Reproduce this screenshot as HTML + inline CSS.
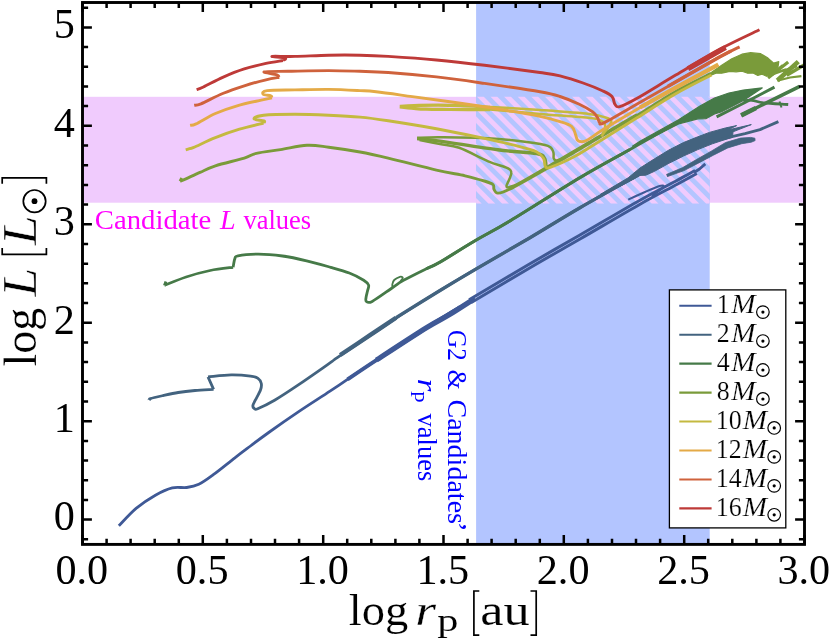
<!DOCTYPE html>
<html><head><meta charset="utf-8"><title>plot</title>
<style>html,body{margin:0;padding:0;background:#fff;overflow:hidden}svg{display:block}text{font-family:"Liberation Serif",serif}svg{will-change:transform}</style></head>
<body>
<svg width="830" height="640" viewBox="0 0 830 640">
<defs>
<clipPath id="plot"><rect x="82.5" y="2.5" width="722.0" height="541.9"/></clipPath>
</defs>
<rect width="830" height="640" fill="#fff"/>
<rect x="82.5" y="96.8" width="722.0" height="105.9" fill="#f0cbfd"/>
<rect x="476.1" y="2.5" width="233.6" height="541.9" fill="#b3c5ff"/>
<clipPath id="hc"><rect x="476.1" y="96.6" width="233.6" height="107.1"/></clipPath>
<rect x="476.1" y="96.6" width="233.6" height="107.1" fill="#b3c5ff"/>
<path clip-path="url(#hc)" d="M313.5 96.6L320.3 96.6L427.4 203.7L420.6 203.7ZM327.1 96.6L333.9 96.6L441.0 203.7L434.2 203.7ZM340.7 96.6L347.5 96.6L454.6 203.7L447.8 203.7ZM354.3 96.6L361.1 96.6L468.2 203.7L461.4 203.7ZM367.9 96.6L374.7 96.6L481.8 203.7L475.0 203.7ZM381.5 96.6L388.3 96.6L495.4 203.7L488.6 203.7ZM395.1 96.6L401.9 96.6L509.0 203.7L502.2 203.7ZM408.7 96.6L415.5 96.6L522.6 203.7L515.8 203.7ZM422.3 96.6L429.1 96.6L536.2 203.7L529.4 203.7ZM435.9 96.6L442.7 96.6L549.8 203.7L543.0 203.7ZM449.5 96.6L456.3 96.6L563.4 203.7L556.6 203.7ZM463.1 96.6L469.9 96.6L577.0 203.7L570.2 203.7ZM476.7 96.6L483.5 96.6L590.6 203.7L583.8 203.7ZM490.3 96.6L497.1 96.6L604.2 203.7L597.4 203.7ZM503.9 96.6L510.7 96.6L617.8 203.7L611.0 203.7ZM517.5 96.6L524.3 96.6L631.4 203.7L624.6 203.7ZM531.1 96.6L537.9 96.6L645.0 203.7L638.2 203.7ZM544.7 96.6L551.5 96.6L658.6 203.7L651.8 203.7ZM558.3 96.6L565.1 96.6L672.2 203.7L665.4 203.7ZM571.9 96.6L578.7 96.6L685.8 203.7L679.0 203.7ZM585.5 96.6L592.3 96.6L699.4 203.7L692.6 203.7ZM599.1 96.6L605.9 96.6L713.0 203.7L706.2 203.7ZM612.7 96.6L619.5 96.6L726.6 203.7L719.8 203.7ZM626.3 96.6L633.1 96.6L740.2 203.7L733.4 203.7ZM639.9 96.6L646.7 96.6L753.8 203.7L747.0 203.7ZM653.5 96.6L660.3 96.6L767.4 203.7L760.6 203.7ZM667.1 96.6L673.9 96.6L781.0 203.7L774.2 203.7ZM680.7 96.6L687.5 96.6L794.6 203.7L787.8 203.7ZM694.3 96.6L701.1 96.6L808.2 203.7L801.4 203.7ZM707.9 96.6L714.7 96.6L821.8 203.7L815.0 203.7Z" fill="#f0cbfd"/>
<g clip-path="url(#plot)" stroke-linejoin="round">
<path d="M118.8 525.8C121.7 522.9 130.0 513.5 136.1 508.4C142.2 503.3 149.4 498.6 155.4 495.2C161.4 491.8 167.1 489.2 172.3 487.9C177.5 486.6 182.3 488.1 186.7 487.5C191.1 486.9 194.4 486.4 198.8 484.3C203.2 482.2 207.3 479.1 213.3 474.7C219.3 470.3 228.7 462.6 234.9 457.8C241.1 453.0 244.9 450.2 250.5 446.0C256.1 441.8 260.7 438.2 268.7 432.5C276.7 426.8 288.5 418.6 298.7 411.7C308.9 404.8 321.9 396.6 330.0 391.2C338.1 385.8 339.8 384.6 347.5 379.4C355.2 374.2 363.2 368.7 376.4 360.1C389.5 351.5 410.0 338.1 426.4 327.8C442.8 317.5 466.6 303.1 474.6 298.1" fill="none" stroke="#3f5996" stroke-width="2.8" stroke-linecap="butt"/>
<path d="M694.0 172.5L699.5 169.0L705.3 163.9" fill="none" stroke="#3f5996" stroke-width="2.8" stroke-linecap="butt"/>
<path d="M347.5 379.4C352.3 376.2 363.2 368.7 376.4 360.1C389.5 351.5 412.5 336.7 426.4 327.8C440.3 318.9 454.4 310.5 460.0 307.0" fill="none" stroke="#3f5996" stroke-width="3.8" stroke-linecap="butt"/>
<path d="M376.4 360.1C384.7 354.7 414.1 335.4 426.4 327.8C438.7 320.2 442.0 319.2 450.0 314.3C458.0 309.4 470.5 301.2 474.6 298.6" fill="none" stroke="#3f5996" stroke-width="5.2" stroke-linecap="butt"/>
<path d="M470.9 302.8C480.9 296.9 512.6 277.9 530.9 267.2C549.2 256.5 562.5 249.1 580.9 238.5C599.2 227.9 624.8 212.8 640.9 203.7C656.9 194.7 667.9 189.3 677.2 184.2C686.6 179.2 693.6 175.3 696.8 173.5" fill="none" stroke="#3f5996" stroke-width="3.0" stroke-linecap="butt"/>
<path d="M469.1 299.8C479.1 293.9 510.8 274.9 529.1 264.2C547.5 253.5 560.8 246.1 579.1 235.5C597.5 224.9 623.1 209.7 639.1 200.7C655.2 191.6 666.2 186.2 675.6 181.2C684.9 176.1 691.9 172.2 695.2 170.5" fill="none" stroke="#3f5996" stroke-width="3.0" stroke-linecap="butt"/>
<path d="M628.2 199.6C631.0 198.3 640.0 194.2 645.0 192.0C650.0 189.8 654.9 187.6 658.0 186.5C661.1 185.4 662.8 185.3 663.5 185.6C664.2 185.9 663.9 186.8 662.0 188.5C660.1 190.2 653.7 194.8 652.0 196.0" fill="none" stroke="#3f5996" stroke-width="2.0" stroke-linecap="butt"/>
<path d="M149.3 400.2C149.5 399.9 148.2 399.4 150.5 398.6C152.8 397.8 158.4 396.6 163.0 395.6C167.6 394.6 172.9 393.4 178.2 392.5C183.5 391.6 189.1 391.0 195.0 390.5C200.9 390.0 210.5 389.6 213.6 389.4M213.6 389.4L208.0 376.9M208.0 376.9C211.9 376.6 224.1 375.0 231.2 374.9C238.3 374.8 246.0 375.5 250.5 376.1C255.0 376.7 256.2 377.1 258.0 378.3C259.8 379.5 260.9 381.6 261.3 383.5C261.7 385.4 261.5 387.2 260.5 390.0C259.5 392.8 256.6 397.6 255.3 400.2C254.0 402.8 253.1 404.1 252.9 405.5C252.7 406.9 253.2 407.8 254.0 408.3C254.8 408.8 254.3 410.1 257.7 408.7C261.1 407.3 267.8 404.2 274.6 400.2C281.4 396.2 289.5 390.8 298.7 384.6C307.9 378.4 323.1 367.7 330.0 362.9C336.9 358.1 328.5 363.5 340.2 355.6C351.9 347.7 383.4 326.6 400.0 315.7C416.6 304.8 427.6 298.1 440.0 290.5C452.4 282.9 459.6 278.6 474.6 269.8C489.6 261.0 512.4 248.0 530.0 237.7C547.6 227.3 561.7 218.3 580.0 207.7C598.3 197.1 623.3 183.2 640.0 174.0C656.7 164.8 668.0 158.6 680.0 152.2C692.0 145.8 706.7 138.4 712.0 135.7" fill="none" stroke="#43637f" stroke-width="2.8" stroke-linecap="butt"/>
<path d="M340.2 355.0C345.2 351.7 360.7 341.4 370.0 335.2C379.3 329.0 391.7 320.6 396.0 317.7" fill="none" stroke="#43637f" stroke-width="4.4" stroke-linecap="butt"/>
<path d="M396.0 317.7C403.3 313.2 426.9 298.5 440.0 290.5C453.1 282.5 459.6 278.6 474.6 269.8C489.6 261.0 512.4 248.0 530.0 237.7C547.6 227.3 561.7 218.3 580.0 207.7C598.3 197.1 630.0 179.6 640.0 174.0" fill="none" stroke="#43637f" stroke-width="3.3" stroke-linecap="butt"/>
<path d="M600.0 194.6L628.2 177.8L640.0 168.0L654.5 158.8L668.9 150.0L683.4 142.6L697.8 136.8L709.4 132.4L725.3 128.0L736.6 125.6L728.0 130.0L751.3 124.6L733.0 131.8L732.5 137.3L721.0 140.9L712.3 143.8L697.8 149.6L683.4 156.1L668.9 163.3L654.5 171.3L645.8 175.2L640.0 175.4L628.2 182.0L600.0 196.4" fill="#43637f" stroke="#43637f" stroke-width="1.0"/>
<path d="M667.1 176.7L684.1 170.6L698.8 162.9L713.4 155.2L727.8 147.9L741.8 143.7L751.3 142.2L755.1 140.6L754.9 138.2L750.7 137.4L740.6 138.1L725.6 142.5L711.2 151.2L696.8 159.3L682.7 167.6L666.3 174.5" fill="#43637f" stroke="#43637f" stroke-width="0.8"/>
<path d="M722.0 138.8L745.0 133.6L760.0 129.6L778.4 121.6" fill="none" stroke="#43637f" stroke-width="2.9" stroke-linecap="butt"/>
<path d="M165.9 281.6L164.4 285.4M164.4 285.4C168.0 284.0 178.5 279.5 186.1 277.0C193.7 274.5 202.4 272.1 210.2 270.5C218.0 268.9 229.3 267.8 233.1 267.3M233.1 267.3C233.4 265.9 234.0 260.8 234.8 258.9C235.6 257.0 234.1 256.6 238.0 255.8C241.9 255.0 251.0 254.1 258.4 254.1C265.8 254.1 274.5 254.9 282.5 256.0C290.5 257.1 298.6 258.9 306.6 260.8C314.6 262.7 323.6 265.3 330.7 267.3C337.8 269.3 343.8 270.9 349.3 273.0C354.8 275.1 360.5 278.2 363.7 280.2C366.9 282.2 368.0 283.3 368.6 285.1C369.2 286.9 367.9 289.0 367.5 291.0C367.1 293.0 366.3 295.4 366.1 297.1C365.9 298.8 365.3 300.6 366.3 301.3C367.3 302.0 367.8 303.7 372.2 301.4C376.6 299.1 387.5 291.0 392.7 287.5C397.9 284.0 397.9 283.4 403.5 280.3C409.1 277.2 420.3 271.7 426.4 268.7C432.5 265.7 432.0 266.7 440.0 262.1C448.0 257.5 462.8 247.9 474.6 241.0C486.4 234.1 493.1 231.1 510.7 220.5C528.3 209.9 560.1 189.4 580.0 177.6C599.9 165.8 613.9 158.5 630.0 149.5C646.1 140.5 663.1 130.8 676.4 123.4C689.7 116.0 704.4 108.3 710.0 105.3" fill="none" stroke="#467a48" stroke-width="2.8" stroke-linecap="butt"/>
<path d="M426.4 268.7C428.7 267.6 432.0 266.7 440.0 262.1C448.0 257.5 462.8 247.9 474.6 241.0C486.4 234.1 493.1 231.1 510.7 220.5C528.3 209.9 560.1 189.4 580.0 177.6C599.9 165.8 621.7 154.2 630.0 149.5" fill="none" stroke="#467a48" stroke-width="3.0" stroke-linecap="butt"/>
<path d="M392.7 287.5C392.6 287.0 392.1 285.8 392.3 284.5C392.6 283.2 392.9 281.3 394.2 280.0C395.5 278.7 398.5 277.2 399.9 276.8C401.3 276.4 402.7 277.1 402.8 277.8C402.9 278.5 400.9 280.5 400.5 281.0" fill="none" stroke="#467a48" stroke-width="1.8" stroke-linecap="butt"/>
<path d="M632.0 146.5L640.0 141.2L678.6 119.7L700.0 106.0L714.5 98.0L728.9 93.0L743.4 90.1L762.2 87.9L743.4 100.5L733.3 105.8L721.0 112.0L714.5 114.0L705.8 118.6L697.8 118.8L678.6 124.0L640.0 143.4" fill="#467a48" stroke="#467a48" stroke-width="1.2"/>
<path d="M716.6 116.8L745.0 102.5L774.5 87.2" fill="none" stroke="#467a48" stroke-width="3.0" stroke-linecap="butt"/>
<path d="M741.2 115.4L760.0 106.0L799.8 86.3" fill="none" stroke="#467a48" stroke-width="3.6" stroke-linecap="butt"/>
<path d="M741.2 115.4L756.0 108.0" fill="none" stroke="#467a48" stroke-width="4.6" stroke-linecap="butt"/>
<path d="M743.4 100.7C744.8 100.6 748.6 99.9 752.0 100.3C755.4 100.7 757.6 102.2 763.6 102.9C769.6 103.6 784.1 104.2 788.2 104.5" fill="none" stroke="#467a48" stroke-width="2.8" stroke-linecap="butt"/>
<path d="M779.5 101.5L781.5 107.5" fill="none" stroke="#467a48" stroke-width="2.0" stroke-linecap="butt"/>
<path d="M181.8 178.0L180.0 181.2M180.0 181.2C181.1 180.8 183.2 180.1 186.5 178.6C189.8 177.1 195.2 174.5 200.0 172.4C204.8 170.3 208.0 168.2 215.4 165.8C222.8 163.4 237.5 160.2 244.3 158.1C251.1 156.0 250.4 154.7 256.4 153.3C262.4 151.9 272.1 150.9 280.5 149.6C288.9 148.3 299.0 145.7 307.0 145.3C315.0 144.9 319.9 146.1 328.7 147.2C337.5 148.3 350.1 150.2 360.0 152.0C369.9 153.8 375.5 155.1 388.2 158.1C400.9 161.1 423.6 167.1 436.4 170.1C449.2 173.1 457.1 174.0 465.1 175.8C473.1 177.6 479.7 179.6 484.3 181.0C488.9 182.4 491.4 183.1 493.0 184.5C494.6 185.9 493.2 187.9 494.0 189.3C494.8 190.7 495.2 193.1 497.8 193.1C500.4 193.1 501.4 193.3 509.4 189.3C517.4 185.3 530.9 177.6 546.0 168.9C561.1 160.2 584.8 146.0 600.0 137.1C615.2 128.2 624.4 123.2 637.0 115.6C649.6 108.0 663.5 98.5 675.7 91.5C688.0 84.5 704.7 76.8 710.5 73.8" fill="none" stroke="#7a9b3a" stroke-width="2.9" stroke-linecap="butt"/>
<path d="M417.1 137.8C420.9 137.7 428.1 137.1 440.0 137.2C451.9 137.3 473.8 137.4 488.2 138.2C502.6 139.0 516.7 140.7 526.7 142.0C536.7 143.3 543.6 144.3 548.0 145.9C552.4 147.5 552.2 149.6 553.2 151.7C554.2 153.8 553.2 156.9 553.7 158.4C554.2 159.9 555.0 160.3 556.0 160.5C557.0 160.7 559.3 159.7 560.0 159.5" fill="none" stroke="#7a9b3a" stroke-width="2.5" stroke-linecap="butt"/>
<path d="M417.1 138.6C420.9 139.0 426.6 139.2 440.0 141.1C453.4 143.0 481.7 147.7 497.8 149.8C513.9 151.9 528.6 152.2 536.4 153.6C544.2 155.0 543.0 156.1 544.6 158.4C546.2 160.7 545.8 166.0 546.0 167.5" fill="none" stroke="#7a9b3a" stroke-width="3.4" stroke-linecap="butt"/>
<path d="M419.5 140.0C422.9 140.7 433.4 142.7 440.0 144.0C446.6 145.3 451.3 144.9 459.3 147.8C467.3 150.7 480.2 157.9 488.2 161.3C496.2 164.7 503.6 166.2 507.5 168.1C511.4 170.0 511.1 170.9 511.3 172.9C511.6 174.9 509.8 177.8 509.0 180.0C508.2 182.2 506.5 184.6 506.5 185.8C506.5 187.0 506.8 187.7 509.0 187.2C511.2 186.7 513.8 185.9 520.0 182.6C526.2 179.3 532.7 175.4 546.0 167.6C559.3 159.8 584.8 144.7 600.0 135.8C615.2 126.9 630.8 118.0 637.0 114.4" fill="none" stroke="#7a9b3a" stroke-width="2.5" stroke-linecap="butt"/>
<path d="M700.0 79.0L711.6 72.3L721.7 65.3L731.8 58.8L741.9 54.2L750.6 52.7L760.7 53.7L768.0 58.1L773.7 63.1L778.8 61.7L778.0 67.0L772.3 74.5L766.5 76.3L762.0 74.2L757.8 75.4L753.0 73.0L747.7 73.2L742.0 71.2L736.1 71.8L730.0 71.4L721.7 73.2L716.0 73.2L711.6 74.9L700.0 80.6" fill="#7a9b3a" stroke="#7a9b3a" stroke-width="1.2"/>
<path d="M768.0 77.9L788.2 61.9" fill="none" stroke="#7a9b3a" stroke-width="3.2" stroke-linecap="butt"/>
<path d="M772.0 74.5L783.0 65.5" fill="none" stroke="#7a9b3a" stroke-width="3.0" stroke-linecap="butt"/>
<path d="M777.3 80.5L798.3 61.6" fill="none" stroke="#7a9b3a" stroke-width="4.6" stroke-linecap="butt"/>
<path d="M777.3 80.7L790.0 77.5L801.4 76.1" fill="none" stroke="#7a9b3a" stroke-width="2.2" stroke-linecap="butt"/>
<path d="M786.7 75.2L804.5 64.8" fill="none" stroke="#7a9b3a" stroke-width="3.4" stroke-linecap="butt"/>
<path d="M770.0 75.0L786.0 69.5" fill="none" stroke="#7a9b3a" stroke-width="2.4" stroke-linecap="butt"/>
<path d="M783.0 71.0L797.0 66.0" fill="none" stroke="#7a9b3a" stroke-width="2.4" stroke-linecap="butt"/>
<path d="M185.7 149.8C186.3 149.6 188.2 149.0 189.5 148.6C190.8 148.2 189.4 149.2 193.7 147.4C198.0 145.6 207.8 140.6 215.4 137.6C223.0 134.6 231.5 131.6 239.5 129.2C247.5 126.8 259.6 124.1 263.6 123.1M263.6 123.1C263.7 122.7 265.6 121.6 264.0 120.9C262.4 120.2 254.1 120.0 254.0 119.0C253.9 118.0 256.8 116.0 263.6 115.2C270.4 114.4 284.0 114.2 294.9 114.2C305.8 114.2 317.8 114.7 328.7 115.2C339.6 115.7 350.1 116.2 360.0 117.1C369.9 118.0 375.5 118.8 388.2 120.7C400.9 122.6 421.3 125.9 436.4 128.7C451.5 131.4 465.2 134.3 478.6 137.2C492.1 140.1 507.5 143.5 517.1 145.9C526.7 148.3 532.0 149.6 536.4 151.7C540.8 153.8 542.1 155.9 543.6 158.4C545.1 160.9 544.2 165.1 545.4 166.5C546.6 167.9 545.9 168.8 550.8 167.1C555.7 165.4 566.7 160.7 574.9 156.3C583.1 151.9 589.6 147.3 600.0 140.9C610.4 134.5 624.4 125.7 637.0 117.8C649.6 109.9 663.3 100.9 675.7 93.8C688.1 86.7 705.6 78.1 711.6 75.0" fill="none" stroke="#c4b940" stroke-width="2.9" stroke-linecap="butt"/>
<path d="M399.8 106.4C402.2 106.2 407.6 105.7 414.0 105.5C420.4 105.3 430.3 105.2 438.0 105.2C445.7 105.2 451.3 105.3 460.0 105.6C468.7 105.9 485.0 106.8 490.0 107.0" fill="none" stroke="#c4b940" stroke-width="3.2" stroke-linecap="butt"/>
<path d="M490.0 107.0C498.3 107.5 523.5 108.8 540.0 109.9C556.5 111.1 577.9 112.6 588.9 113.9C599.9 115.2 602.6 116.6 606.3 117.7C610.0 118.8 610.8 119.3 611.3 120.6C611.8 121.9 610.6 123.6 609.5 125.5C608.4 127.4 605.8 130.2 604.5 132.0C603.2 133.8 602.0 135.8 601.5 136.5" fill="none" stroke="#c4b940" stroke-width="2.5" stroke-linecap="butt"/>
<path d="M399.8 106.8C402.2 107.1 409.6 108.0 414.0 108.4C418.4 108.8 420.0 109.0 426.0 109.2C432.0 109.4 439.3 109.4 450.0 109.5C460.7 109.6 483.3 109.6 490.0 109.6" fill="none" stroke="#c4b940" stroke-width="3.2" stroke-linecap="butt"/>
<path d="M490.0 109.6C498.3 110.3 523.3 112.5 540.0 113.9C556.7 115.3 580.0 117.0 590.0 118.0C600.0 119.0 597.6 119.3 600.0 120.2C602.4 121.1 603.7 122.2 604.5 123.5C605.3 124.8 605.3 126.2 605.0 128.0C604.7 129.8 602.9 133.0 602.5 134.0" fill="none" stroke="#c4b940" stroke-width="2.5" stroke-linecap="butt"/>
<path d="M190.1 125.3C191.1 125.1 191.9 125.9 196.1 123.9C200.3 121.9 208.6 116.5 215.4 113.5C222.2 110.5 229.5 108.0 237.1 105.8C244.7 103.6 255.4 101.5 261.2 100.2C267.0 98.9 270.2 98.2 272.0 97.8M272.0 97.8C271.8 97.5 272.3 96.5 270.8 95.9C269.3 95.3 263.7 95.1 263.1 94.2C262.5 93.3 261.9 91.3 267.2 90.6C272.5 89.9 284.6 90.1 294.9 89.9C305.1 89.7 317.8 89.3 328.7 89.4C339.6 89.5 352.1 90.2 360.0 90.6C367.9 91.0 367.4 90.8 376.1 91.8C384.8 92.8 398.2 94.7 412.3 96.6C426.4 98.5 444.4 100.9 460.5 103.2C476.6 105.5 495.4 108.4 508.7 110.6C522.0 112.8 531.5 114.6 540.0 116.4C548.5 118.2 554.7 119.9 560.0 121.6C565.3 123.3 569.0 124.3 571.6 126.4C574.2 128.5 574.5 131.8 575.4 134.1C576.3 136.3 576.5 138.7 577.3 139.9C578.1 141.1 578.5 141.4 580.0 141.5C581.5 141.6 582.5 142.6 586.5 140.5C590.5 138.4 595.2 134.4 604.3 128.8C613.4 123.2 629.1 113.8 641.0 106.9C652.9 100.1 662.8 94.7 675.7 87.7C688.6 80.7 711.2 68.5 718.3 64.7" fill="none" stroke="#e4aa47" stroke-width="2.9" stroke-linecap="butt"/>
<path d="M640.0 107.5L675.7 87.7L718.3 64.7" fill="none" stroke="#e4aa47" stroke-width="4.2" stroke-linecap="butt"/>
<path d="M194.2 105.3C195.3 105.1 196.2 105.9 201.0 103.9C205.8 101.9 215.5 96.5 222.7 93.5C229.9 90.5 237.1 88.1 244.3 85.8C251.5 83.5 260.2 81.2 266.0 79.8C271.8 78.4 277.1 77.7 279.3 77.3M279.3 77.3C278.9 76.9 279.4 75.8 276.9 74.9C274.4 74.0 262.3 72.6 264.1 72.0C265.9 71.4 276.9 71.5 287.7 71.3C298.5 71.1 316.6 70.6 328.7 70.6C340.8 70.6 350.1 71.0 360.0 71.3C369.9 71.6 375.5 71.6 388.2 72.5C400.9 73.4 420.3 75.1 436.4 76.9C452.5 78.7 467.3 80.9 484.6 83.4C501.9 85.9 527.4 89.6 540.0 91.8C552.6 94.0 553.5 94.4 560.0 96.5C566.5 98.6 573.8 101.6 579.3 104.2C584.8 106.8 589.8 109.7 592.8 111.9C595.8 114.2 596.5 115.9 597.6 117.7C598.7 119.5 598.4 121.7 599.5 122.5C600.6 123.3 598.0 125.7 604.3 122.6C610.6 119.5 625.2 110.9 637.1 104.1C649.0 97.3 661.9 89.8 675.7 81.9C689.5 74.0 709.4 62.6 720.0 56.8C730.6 51.0 736.3 48.5 739.6 46.9" fill="none" stroke="#cf623c" stroke-width="2.9" stroke-linecap="butt"/>
<path d="M668.0 86.3L720.0 56.8L731.0 51.1" fill="none" stroke="#cf623c" stroke-width="3.4" stroke-linecap="butt"/>
<path d="M196.6 89.6C197.7 89.2 199.1 89.0 203.4 87.0C207.8 85.0 215.9 80.3 222.7 77.3C229.5 74.3 237.1 71.2 244.3 68.9C251.5 66.6 259.6 64.8 266.0 63.4C272.4 62.0 280.1 61.0 282.9 60.5M282.9 60.5C283.3 60.1 287.1 58.8 285.3 58.1C283.5 57.4 270.4 56.7 272.0 56.4C273.6 56.1 285.6 56.6 295.0 56.4C304.4 56.2 317.9 55.4 328.7 55.2C339.5 55.0 350.1 55.0 360.0 55.2C369.9 55.4 375.5 55.6 388.2 56.4C400.9 57.2 420.3 58.5 436.4 60.0C452.5 61.5 467.3 63.2 484.6 65.3C501.9 67.4 527.4 70.7 540.0 72.5C552.6 74.3 552.8 74.2 560.0 75.9C567.2 77.7 576.0 80.5 583.1 83.0C590.2 85.5 597.6 88.5 602.4 90.7C607.2 93.0 609.9 94.2 612.0 96.5C614.1 98.8 613.6 102.5 614.9 104.2C616.2 105.9 616.1 107.6 619.8 106.6C623.5 105.6 627.8 103.5 637.1 98.3C646.4 93.0 661.9 83.3 675.7 75.1C689.5 66.9 706.0 56.6 720.0 49.1C734.0 41.6 752.9 33.0 759.5 29.8" fill="none" stroke="#be3a38" stroke-width="2.9" stroke-linecap="butt"/>
<path d="M688.0 68.8L725.6 47.4" fill="none" stroke="#be3a38" stroke-width="5.2" stroke-linecap="butt"/>
</g>
<rect x="82.5" y="2.5" width="722.0" height="541.9" fill="none" stroke="#000" stroke-width="2.9"/>
<path d="M82.5 544.4v-9.4M82.5 2.5v9.4M106.6 544.4v-5.6M106.6 2.5v5.6M130.6 544.4v-5.6M130.6 2.5v5.6M154.7 544.4v-5.6M154.7 2.5v5.6M178.8 544.4v-5.6M178.8 2.5v5.6M202.8 544.4v-9.4M202.8 2.5v9.4M226.9 544.4v-5.6M226.9 2.5v5.6M251.0 544.4v-5.6M251.0 2.5v5.6M275.0 544.4v-5.6M275.0 2.5v5.6M299.1 544.4v-5.6M299.1 2.5v5.6M323.2 544.4v-9.4M323.2 2.5v9.4M347.2 544.4v-5.6M347.2 2.5v5.6M371.3 544.4v-5.6M371.3 2.5v5.6M395.4 544.4v-5.6M395.4 2.5v5.6M419.4 544.4v-5.6M419.4 2.5v5.6M443.5 544.4v-9.4M443.5 2.5v9.4M467.6 544.4v-5.6M467.6 2.5v5.6M491.6 544.4v-5.6M491.6 2.5v5.6M515.7 544.4v-5.6M515.7 2.5v5.6M539.8 544.4v-5.6M539.8 2.5v5.6M563.8 544.4v-9.4M563.8 2.5v9.4M587.9 544.4v-5.6M587.9 2.5v5.6M612.0 544.4v-5.6M612.0 2.5v5.6M636.0 544.4v-5.6M636.0 2.5v5.6M660.1 544.4v-5.6M660.1 2.5v5.6M684.2 544.4v-9.4M684.2 2.5v9.4M708.2 544.4v-5.6M708.2 2.5v5.6M732.3 544.4v-5.6M732.3 2.5v5.6M756.4 544.4v-5.6M756.4 2.5v5.6M780.4 544.4v-5.6M780.4 2.5v5.6M804.5 544.4v-9.4M804.5 2.5v9.4M82.5 539.3h5.6M804.5 539.3h-5.6M82.5 519.6h9.4M804.5 519.6h-9.4M82.5 500.0h5.6M804.5 500.0h-5.6M82.5 480.3h5.6M804.5 480.3h-5.6M82.5 460.6h5.6M804.5 460.6h-5.6M82.5 440.9h5.6M804.5 440.9h-5.6M82.5 421.2h9.4M804.5 421.2h-9.4M82.5 401.5h5.6M804.5 401.5h-5.6M82.5 381.8h5.6M804.5 381.8h-5.6M82.5 362.1h5.6M804.5 362.1h-5.6M82.5 342.4h5.6M804.5 342.4h-5.6M82.5 322.7h9.4M804.5 322.7h-9.4M82.5 303.0h5.6M804.5 303.0h-5.6M82.5 283.3h5.6M804.5 283.3h-5.6M82.5 263.7h5.6M804.5 263.7h-5.6M82.5 244.0h5.6M804.5 244.0h-5.6M82.5 224.3h9.4M804.5 224.3h-9.4M82.5 204.6h5.6M804.5 204.6h-5.6M82.5 184.9h5.6M804.5 184.9h-5.6M82.5 165.2h5.6M804.5 165.2h-5.6M82.5 145.5h5.6M804.5 145.5h-5.6M82.5 125.8h9.4M804.5 125.8h-9.4M82.5 106.1h5.6M804.5 106.1h-5.6M82.5 86.4h5.6M804.5 86.4h-5.6M82.5 66.7h5.6M804.5 66.7h-5.6M82.5 47.0h5.6M804.5 47.0h-5.6M82.5 27.4h9.4M804.5 27.4h-9.4M82.5 7.7h5.6M804.5 7.7h-5.6" stroke="#000" stroke-width="2.5" fill="none"/>
<g font-family="Liberation Serif, serif" font-size="42.2" fill="#000">
<text transform="translate(81.8 584) scale(1.0 1)" text-anchor="middle">0.0</text>
<text transform="translate(202.1 584) scale(1.0 1)" text-anchor="middle">0.5</text>
<text transform="translate(322.5 584) scale(1.0 1)" text-anchor="middle">1.0</text>
<text transform="translate(442.8 584) scale(1.0 1)" text-anchor="middle">1.5</text>
<text transform="translate(563.1 584) scale(1.0 1)" text-anchor="middle">2.0</text>
<text transform="translate(683.5 584) scale(1.0 1)" text-anchor="middle">2.5</text>
<text transform="translate(803.8 584) scale(1.0 1)" text-anchor="middle">3.0</text>
<text x="74.8" y="530.4" text-anchor="end">0</text>
<text x="74.8" y="432.0" text-anchor="end">1</text>
<text x="74.8" y="333.5" text-anchor="end">2</text>
<text x="74.8" y="235.1" text-anchor="end">3</text>
<text x="74.8" y="136.6" text-anchor="end">4</text>
<text x="74.8" y="38.2" text-anchor="end">5</text>
</g>
<rect x="669.4" y="289.9" width="116.4" height="238.0" fill="#fff" stroke="#000" stroke-width="1.3"/>
<path d="M679.3 305.7H711.6" stroke="#3f5996" stroke-width="2.1" fill="none"/>
<text transform="translate(716.70 313.40) scale(0.975 1.000)" font-family="Liberation Serif, serif" font-size="26.6" fill="#000" text-anchor="start" stroke="#fff" stroke-width="0.21">1</text>
<text transform="translate(731.26 313.40) scale(1.079 1.000)" font-family="Liberation Serif, serif" font-size="27.0" font-style="italic" fill="#000" text-anchor="start" stroke="#fff" stroke-width="0.23">M</text>
<circle cx="762.90" cy="312.10" r="6.30" fill="none" stroke="#000" stroke-width="1.20"/>
<circle cx="762.90" cy="312.10" r="1.60" fill="#000"/>
<path d="M679.3 334.7H711.6" stroke="#43637f" stroke-width="2.1" fill="none"/>
<text transform="translate(716.70 342.36) scale(0.975 1.000)" font-family="Liberation Serif, serif" font-size="26.6" fill="#000" text-anchor="start" stroke="#fff" stroke-width="0.21">2</text>
<text transform="translate(731.26 342.36) scale(1.079 1.000)" font-family="Liberation Serif, serif" font-size="27.0" font-style="italic" fill="#000" text-anchor="start" stroke="#fff" stroke-width="0.23">M</text>
<circle cx="762.90" cy="341.06" r="6.30" fill="none" stroke="#000" stroke-width="1.20"/>
<circle cx="762.90" cy="341.06" r="1.60" fill="#000"/>
<path d="M679.3 363.6H711.6" stroke="#467a48" stroke-width="2.1" fill="none"/>
<text transform="translate(716.70 371.32) scale(0.975 1.000)" font-family="Liberation Serif, serif" font-size="26.6" fill="#000" text-anchor="start" stroke="#fff" stroke-width="0.21">4</text>
<text transform="translate(731.26 371.32) scale(1.079 1.000)" font-family="Liberation Serif, serif" font-size="27.0" font-style="italic" fill="#000" text-anchor="start" stroke="#fff" stroke-width="0.23">M</text>
<circle cx="762.90" cy="370.02" r="6.30" fill="none" stroke="#000" stroke-width="1.20"/>
<circle cx="762.90" cy="370.02" r="1.60" fill="#000"/>
<path d="M679.3 392.6H711.6" stroke="#7a9b3a" stroke-width="2.1" fill="none"/>
<text transform="translate(716.70 400.28) scale(0.975 1.000)" font-family="Liberation Serif, serif" font-size="26.6" fill="#000" text-anchor="start" stroke="#fff" stroke-width="0.21">8</text>
<text transform="translate(731.26 400.28) scale(1.079 1.000)" font-family="Liberation Serif, serif" font-size="27.0" font-style="italic" fill="#000" text-anchor="start" stroke="#fff" stroke-width="0.23">M</text>
<circle cx="762.90" cy="398.98" r="6.30" fill="none" stroke="#000" stroke-width="1.20"/>
<circle cx="762.90" cy="398.98" r="1.60" fill="#000"/>
<path d="M679.3 421.5H711.6" stroke="#c4b940" stroke-width="2.1" fill="none"/>
<text transform="translate(715.70 429.24) scale(0.975 1.000)" font-family="Liberation Serif, serif" font-size="26.6" fill="#000" text-anchor="start" stroke="#fff" stroke-width="0.21">10</text>
<text transform="translate(742.66 429.24) scale(1.079 1.000)" font-family="Liberation Serif, serif" font-size="27.0" font-style="italic" fill="#000" text-anchor="start" stroke="#fff" stroke-width="0.23">M</text>
<circle cx="774.20" cy="427.94" r="6.30" fill="none" stroke="#000" stroke-width="1.20"/>
<circle cx="774.20" cy="427.94" r="1.60" fill="#000"/>
<path d="M679.3 450.5H711.6" stroke="#e4aa47" stroke-width="2.1" fill="none"/>
<text transform="translate(715.70 458.20) scale(0.975 1.000)" font-family="Liberation Serif, serif" font-size="26.6" fill="#000" text-anchor="start" stroke="#fff" stroke-width="0.21">12</text>
<text transform="translate(742.66 458.20) scale(1.079 1.000)" font-family="Liberation Serif, serif" font-size="27.0" font-style="italic" fill="#000" text-anchor="start" stroke="#fff" stroke-width="0.23">M</text>
<circle cx="774.20" cy="456.90" r="6.30" fill="none" stroke="#000" stroke-width="1.20"/>
<circle cx="774.20" cy="456.90" r="1.60" fill="#000"/>
<path d="M679.3 479.5H711.6" stroke="#cf623c" stroke-width="2.1" fill="none"/>
<text transform="translate(715.70 487.16) scale(0.975 1.000)" font-family="Liberation Serif, serif" font-size="26.6" fill="#000" text-anchor="start" stroke="#fff" stroke-width="0.21">14</text>
<text transform="translate(742.66 487.16) scale(1.079 1.000)" font-family="Liberation Serif, serif" font-size="27.0" font-style="italic" fill="#000" text-anchor="start" stroke="#fff" stroke-width="0.23">M</text>
<circle cx="774.20" cy="485.86" r="6.30" fill="none" stroke="#000" stroke-width="1.20"/>
<circle cx="774.20" cy="485.86" r="1.60" fill="#000"/>
<path d="M679.3 508.4H711.6" stroke="#be3a38" stroke-width="2.1" fill="none"/>
<text transform="translate(715.70 516.12) scale(0.975 1.000)" font-family="Liberation Serif, serif" font-size="26.6" fill="#000" text-anchor="start" stroke="#fff" stroke-width="0.21">16</text>
<text transform="translate(742.66 516.12) scale(1.079 1.000)" font-family="Liberation Serif, serif" font-size="27.0" font-style="italic" fill="#000" text-anchor="start" stroke="#fff" stroke-width="0.23">M</text>
<circle cx="774.20" cy="514.82" r="6.30" fill="none" stroke="#000" stroke-width="1.20"/>
<circle cx="774.20" cy="514.82" r="1.60" fill="#000"/>
<text transform="translate(94.85 228.60) scale(1.080 1.000)" font-family="Liberation Serif, serif" font-size="26.6" fill="#ff00ff" text-anchor="start">Candidate</text>
<text transform="translate(219.95 228.60) scale(1.066 1.000)" font-family="Liberation Serif, serif" font-size="26.4" font-style="italic" fill="#ff00ff" text-anchor="start">L</text>
<text transform="translate(243.40 228.60) scale(0.998 1.000)" font-family="Liberation Serif, serif" font-size="26.6" fill="#ff00ff" text-anchor="start">values</text>
<text transform="translate(448.40 329.99) rotate(90) scale(0.919 1.000)" font-family="Liberation Serif, serif" font-size="27.4" fill="#0000ff" text-anchor="start">G2</text>
<text transform="translate(448.40 369.62) rotate(90) scale(0.955 1.000)" font-family="Liberation Serif, serif" font-size="27.4" fill="#0000ff" text-anchor="start">&amp;</text>
<text transform="translate(448.20 399.48) rotate(90) scale(1.023 1.000)" font-family="Liberation Serif, serif" font-size="27.4" fill="#0000ff" text-anchor="start">Candidates</text>
<text transform="translate(448.20 521.46) rotate(90) scale(1.144 1.000)" font-family="Liberation Serif, serif" font-size="27.4" fill="#0000ff" text-anchor="start">’</text>
<text transform="translate(418.20 378.71) rotate(90) scale(1.225 1.000)" font-family="Liberation Serif, serif" font-size="26.4" font-style="italic" fill="#0000ff" text-anchor="start">r</text>
<text transform="translate(414.60 391.26) rotate(90) scale(1.232 1.000)" font-family="Liberation Serif, serif" font-size="18.6" fill="#0000ff" text-anchor="start">p</text>
<text transform="translate(418.40 413.60) rotate(90) scale(1.004 1.000)" font-family="Liberation Serif, serif" font-size="26.4" fill="#0000ff" text-anchor="start">values</text>
<text transform="translate(348.77 624.50) scale(1.034 1.000)" font-family="Liberation Serif, serif" font-size="45.0" fill="#000" text-anchor="start" stroke="#fff" stroke-width="0.15">log</text>
<text transform="translate(415.37 624.50) scale(1.188 1.000)" font-family="Liberation Serif, serif" font-size="44.9" font-style="italic" fill="#000" text-anchor="start" stroke="#fff" stroke-width="0.29">r</text>
<text transform="translate(437.27 631.40) scale(1.358 1.000)" font-family="Liberation Serif, serif" font-size="31.1" fill="#000" text-anchor="start" stroke="#fff" stroke-width="0.07">p</text>
<path d="M479.3 591.0H473.9V635.2H479.3M530.5 591.0H536.2V635.2H530.5" fill="none" stroke="#000" stroke-width="1.7"/>
<text transform="translate(480.17 624.50) scale(1.165 1.000)" font-family="Liberation Serif, serif" font-size="44.9" fill="#000" text-anchor="start" stroke="#fff" stroke-width="0.13">au</text>
<text transform="translate(35.80 366.52) rotate(-90) scale(1.002 1.000)" font-family="Liberation Serif, serif" font-size="45.8" fill="#000" text-anchor="start" stroke="#fff" stroke-width="0.15">log</text>
<text transform="translate(36.20 296.56) rotate(-90) scale(1.064 1.000)" font-family="Liberation Serif, serif" font-size="48.4" font-style="italic" fill="#000" text-anchor="start" stroke="#fff" stroke-width="0.42">L</text>
<path d="M2.2 248.1V254.4H46.4V248.1M2.2 183.8V177.8H46.4V183.8" fill="none" stroke="#000" stroke-width="1.7"/>
<text transform="translate(36.20 245.13) rotate(-90) scale(1.111 1.000)" font-family="Liberation Serif, serif" font-size="48.4" font-style="italic" fill="#000" text-anchor="start" stroke="#fff" stroke-width="0.40">L</text>
<circle cx="34.50" cy="201.20" r="11.20" fill="none" stroke="#000" stroke-width="1.70"/>
<circle cx="34.50" cy="201.20" r="2.90" fill="#000"/>
</svg>
</body></html>
